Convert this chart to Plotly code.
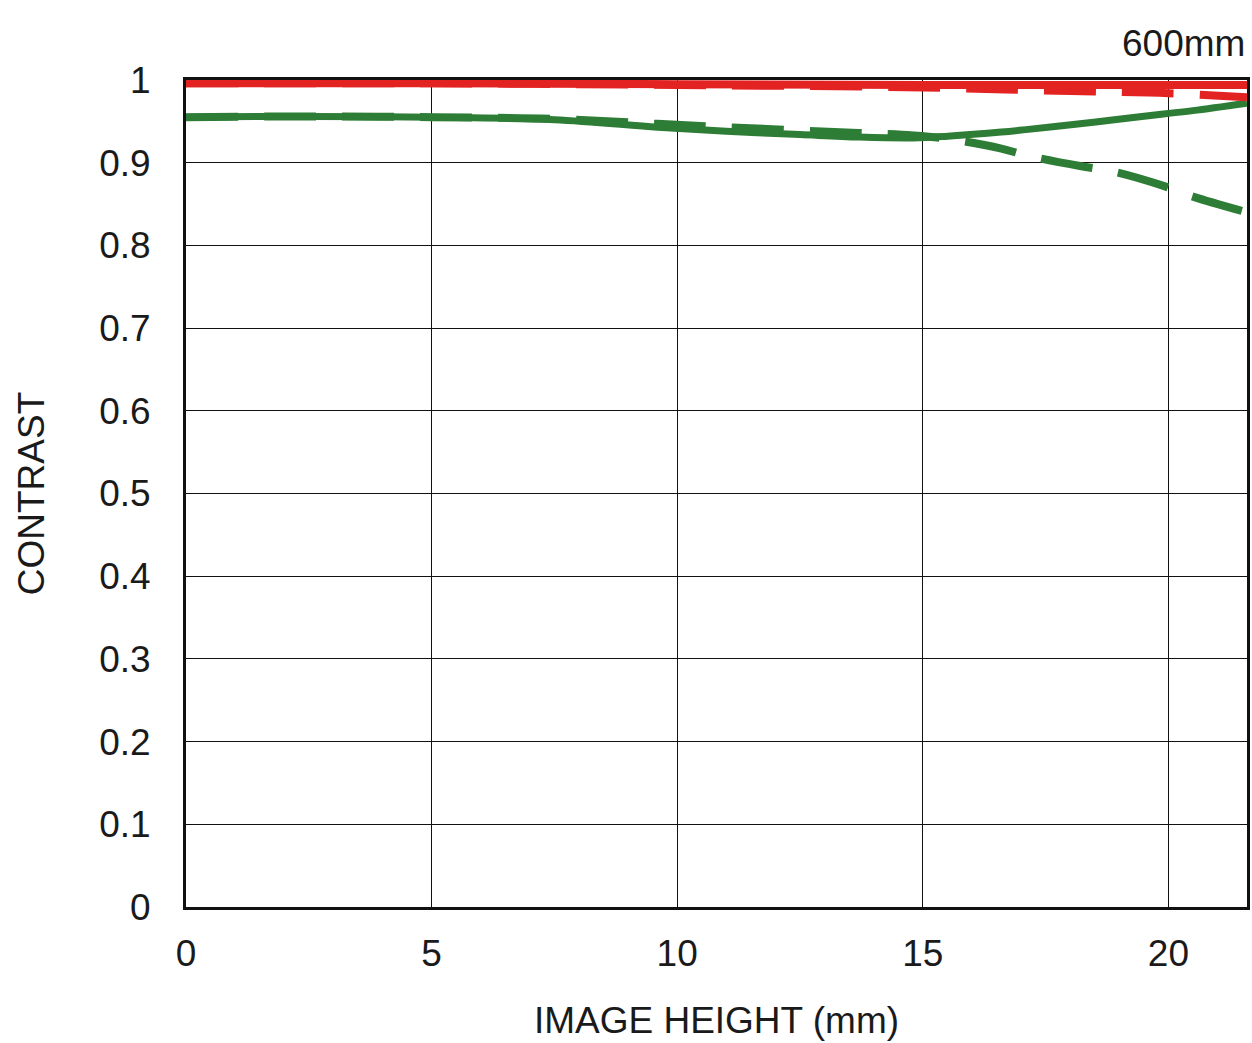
import plotly.graph_objects as go

# Image height (mm)
x_red = [0, 5, 10, 15, 17, 18.5, 20, 21.6]
red_solid = [0.996, 0.996, 0.995, 0.994, 0.994, 0.994, 0.994, 0.994]
red_dashed = [0.996, 0.996, 0.994, 0.991, 0.988, 0.986, 0.984, 0.979]

x_green = [0, 2.5, 5, 7.5, 9.6, 11, 12.5, 13.7, 14.8, 15.5, 16.6, 17.1, 18.2, 18.9, 19.9, 20.5, 21.6]
green_solid = [0.955, 0.956, 0.955, 0.952, 0.943, 0.938, 0.934, 0.931, 0.930, 0.932, 0.937, 0.940, 0.947, 0.952, 0.959, 0.963, 0.972]
green_dashed = [0.955, 0.956, 0.955, 0.953, 0.947, 0.943, 0.939, 0.936, 0.933, 0.929, 0.917, 0.909, 0.896, 0.889, 0.872, 0.859, 0.840]

x_ticks = [0, 5, 10, 15, 20]
y_ticks = [0, 0.1, 0.2, 0.3, 0.4, 0.5, 0.6, 0.7, 0.8, 0.9, 1]
y_tick_text = ["0", "0.1", "0.2", "0.3", "0.4", "0.5", "0.6", "0.7", "0.8", "0.9", "1"]

RED = "#e32222"
GREEN = "#2e7d36"
FONT = "Liberation Sans"
FS = 37

fig = go.Figure()
fig.add_trace(go.Scatter(x=x_green, y=green_dashed, mode="lines", line=dict(color=GREEN, width=8, dash="52px,26px", shape="spline"), showlegend=False))
fig.add_trace(go.Scatter(x=x_green, y=green_solid, mode="lines", line=dict(color=GREEN, width=7, shape="spline"), showlegend=False))
fig.add_trace(go.Scatter(x=x_red, y=red_dashed, mode="lines", line=dict(color=RED, width=8, dash="52px,26px", shape="spline"), showlegend=False))
fig.add_trace(go.Scatter(x=x_red, y=red_solid, mode="lines", line=dict(color=RED, width=8, shape="spline"), showlegend=False))

fig.update_layout(
    width=1252, height=1043,
    margin=dict(l=186, r=2, t=80, b=136),
    paper_bgcolor="white", plot_bgcolor="white",
    font=dict(family=FONT, size=FS, color="#1a1a1a"),
    xaxis=dict(range=[0, 21.6], tickvals=x_ticks, ticktext=[str(v) for v in x_ticks],
               showgrid=True, gridcolor="#111111", gridwidth=1.2, zeroline=False,
               showline=True, linecolor="#111111", linewidth=3, mirror=True,
               ticks="", ticklabelstandoff=12,
               title=dict(text="IMAGE HEIGHT (mm)", standoff=34, font=dict(size=FS))),
    yaxis=dict(range=[0, 1], tickvals=y_ticks, ticktext=y_tick_text,
               showgrid=True, gridcolor="#111111", gridwidth=1.2, zeroline=False,
               showline=True, linecolor="#111111", linewidth=3, mirror=True,
               ticks="", ticklabelstandoff=25,
               title=dict(text="CONTRAST", standoff=44, font=dict(size=FS))),
    annotations=[dict(text="600mm", xref="paper", yref="paper", x=1.0, y=1.0,
                      xanchor="right", yanchor="bottom", yshift=14, showarrow=False,
                      font=dict(size=FS, color="#1a1a1a"))],
)

fig.write_html("out.html", config={"displayModeBar": False},
               post_script="document.body.style.margin='0';document.body.style.overflow='hidden';")
